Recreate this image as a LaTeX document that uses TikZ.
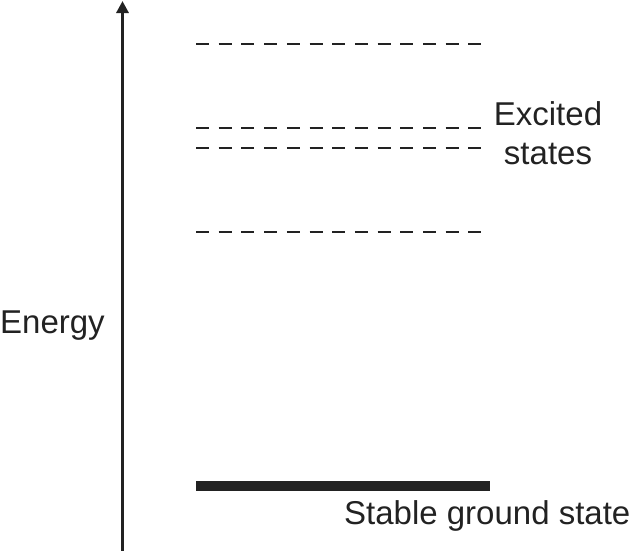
\documentclass[tikz,border=0pt]{standalone}
\usepackage{fontspec}
\setmainfont{Liberation Sans}
\usetikzlibrary{arrows.meta}
\definecolor{ink}{HTML}{222222}
\begin{document}
\begin{tikzpicture}[x=1pt,y=-1pt,
  level/.style={draw=ink,line width=2pt,dash pattern=on 13pt off 9.7pt},
  ground/.style={draw=ink,line width=9.5pt},
  axis/.style={draw=ink,line width=3.2pt,-{Triangle[length=12pt,width=12pt]}},
  lbl/.style={text=ink,font=\fontsize{33}{39}\selectfont,inner sep=0pt}]
\useasboundingbox (0,0) rectangle (632,550);
\coordinate (ab) at (122.5,552);
\coordinate (at) at (122.5,1);
\draw[axis] (ab) -- (at);
\foreach \y [count=\i] in {44,128,148,232}{
  \coordinate (l\i a) at (196,\y);
  \coordinate (l\i b) at (483,\y);
  \draw[level] (l\i a) -- (l\i b);
}
\coordinate (ga) at (196,486);
\coordinate (gb) at (490,486);
\draw[ground] (ga) -- (gb);
\node[lbl,anchor=base west] (energy) at (0,333) {Energy};
\node[lbl,anchor=base,align=center] (exc) at (548,164) {Excited\\states};
\node[lbl,anchor=base west] (gs) at (344,524) {Stable ground state};
\end{tikzpicture}
\end{document}
